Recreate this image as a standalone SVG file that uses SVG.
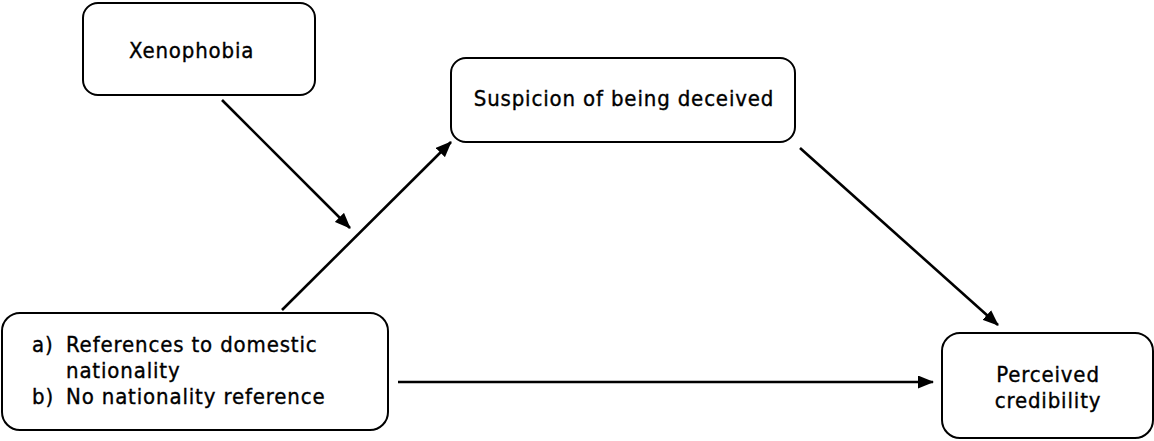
<svg xmlns="http://www.w3.org/2000/svg" width="1154" height="441" viewBox="0 0 1154 441">
<style>
.box{fill:#fff;stroke:#000;stroke-width:2}
.t{font-family:"DejaVu Sans Condensed","DejaVu Sans",Verdana,sans-serif;font-size:22px;letter-spacing:0.85px;fill:#000;stroke:#000;stroke-width:0.35}
.c{stroke:#000;stroke-width:2.6;fill:none;marker-end:url(#ah)}
</style>
<defs>
<marker id="ah" viewBox="0 0 16 13" refX="15" refY="6.5" markerWidth="16" markerHeight="13" markerUnits="userSpaceOnUse" orient="auto">
<path d="M0,0 L16,6.5 L0,13 z" fill="#000"/>
</marker>
</defs>
<rect width="1154" height="441" fill="#fff"/>
<g id="xenophobia">
<rect class="box" x="83" y="3" width="232" height="92" rx="15"/>
<text class="t" x="129" y="58">Xenophobia</text>
</g>
<g id="suspicion">
<rect class="box" x="451" y="58" width="344" height="84" rx="15"/>
<text class="t" x="624" y="106" text-anchor="middle">Suspicion of being deceived</text>
</g>
<g id="references">
<rect class="box" x="2" y="313" width="386" height="117" rx="18"/>
<text class="t" y="352"><tspan x="32">a)</tspan><tspan x="66">References to domestic</tspan></text>
<text class="t" x="66" y="378">nationality</text>
<text class="t" y="404"><tspan x="32">b)</tspan><tspan x="66">No nationality reference</tspan></text>
</g>
<g id="credibility">
<rect class="box" x="942" y="333" width="211" height="105" rx="18"/>
<text class="t" x="1048" y="382" text-anchor="middle">Perceived</text>
<text class="t" x="1048" y="408" text-anchor="middle">credibility</text>
</g>
<g id="connectors">
<line class="c" x1="222" y1="100" x2="350" y2="228"/>
<line class="c" x1="282" y1="310" x2="451" y2="142"/>
<line class="c" x1="800" y1="148" x2="998" y2="325"/>
<line class="c" x1="398" y1="382" x2="933" y2="382"/>
</g>
</svg>
